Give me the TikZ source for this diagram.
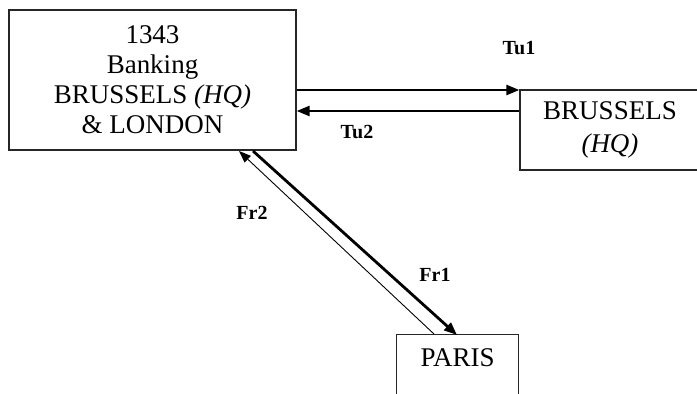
\documentclass[tikz,border=0pt]{standalone}
\usepackage{fontspec}
\setmainfont{Liberation Serif}
\usetikzlibrary{arrows.meta}
\begin{document}
\begin{tikzpicture}[x=1pt,y=-1pt,
  boxst/.style={draw=black!85, line width=1.3pt, rectangle, inner sep=0pt, align=center,
    font=\fontsize{27}{30}\selectfont},
  lbl/.style={font=\fontsize{20}{22}\selectfont\bfseries, inner sep=0pt},
  txt/.style={font=\fontsize{27}{30}\selectfont, inner sep=0pt},
  thickarr/.style={line width=2.6pt, -{Triangle[length=13pt,width=10pt]}},
  heavyarr/.style={line width=2.8pt, -{Triangle[length=13pt,width=10pt]}},
  thinarr/.style={line width=0.9pt, -{Triangle[length=12pt,width=9pt]}}]
\useasboundingbox (0,0) rectangle (697,394);
\clip (0,0) rectangle (697,394);
% boxes
\node[boxst, minimum width=287pt, minimum height=140pt] (lb) at (152.5,80)
  {1343\\Banking\\BRUSSELS \textit{(HQ)}\\\& LONDON};
\node[boxst, minimum width=180pt, minimum height=80pt,
  font=\fontsize{27}{33}\selectfont] (bru) at (610,130)
  {BRUSSELS\\\textit{(HQ)}};
\node[boxst, minimum width=122pt, minimum height=80pt, anchor=north west] (paris) at (396,334) {};
\node[txt, anchor=center] (paristxt) at (paris.north |- 0,358) {PARIS};
% Tu arrows
\coordinate (tu1s) at (lb.east |- 0,90);
\coordinate (tu1e) at (bru.west |- 0,90);
\coordinate (tu2s) at (bru.west |- 0,111);
\coordinate (tu2e) at (lb.east |- 0,111);
\draw[thickarr] (tu1s) -- (tu1e);
\draw[thickarr] (tu2s) -- (tu2e);
% Fr arrows
\coordinate (fr1s) at (253,151);
\coordinate (fr1e) at (457,335);
\coordinate (fr2s) at (434,334);
\coordinate (fr2e) at (239,151);
\draw[heavyarr] (fr1s) -- (fr1e);
\draw[thinarr] (fr2s) -- (fr2e);
% labels
\node[lbl] (tu1) at (519,48) {Tu1};
\node[lbl] (tu2) at (357,132) {Tu2};
\node[lbl] (fr1) at (435,275) {Fr1};
\node[lbl] (fr2) at (252,213) {Fr2};
\end{tikzpicture}
\end{document}
